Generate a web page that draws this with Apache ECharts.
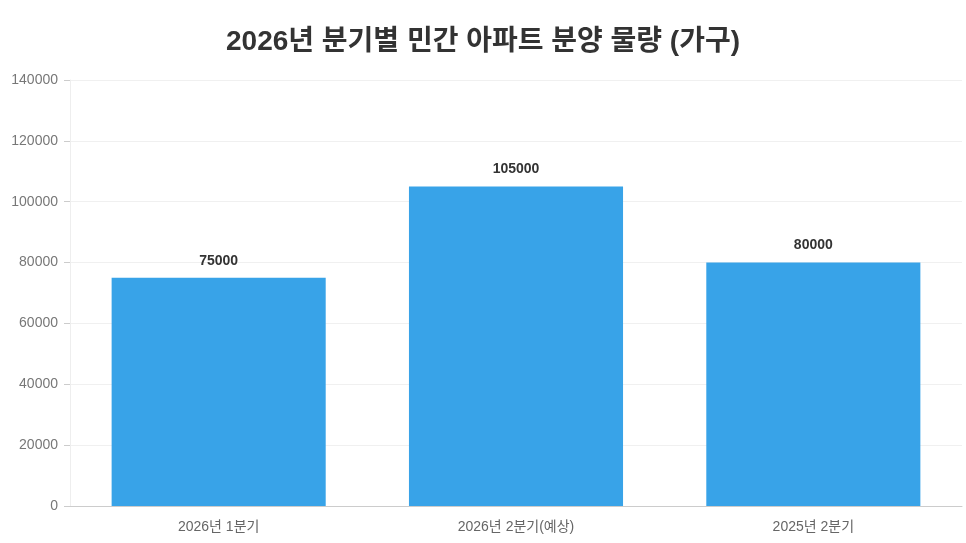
<!DOCTYPE html>
<html>
<head>
<meta charset="utf-8">
<script src="https://cdn.jsdelivr.net/npm/echarts@6/dist/echarts.min.js"></script>
<style>
	html, body { margin: 0; padding: 0; background: #fff; }
	#chart { width: 966px; height: 543px; }
</style>
</head>
<body>
<div id="chart"></div>
<script>
var categories = ['2026년 1분기', '2026년 2분기(예상)', '2025년 2분기'];
var supplyValues = [75000, 105000, 80000];
var titleText = '2026년 분기별 민간 아파트 분양 물량 (가구)';

var fontFamily = '"Liberation Sans", Arial, "Noto Sans CJK KR", sans-serif';

var chart = echarts.init(document.getElementById('chart'));

var option = {
	backgroundColor: '#fff',
	animation: false,
	title: {
		text: titleText,
		left: 'center',
		top: 23,
		textStyle: {
			color: '#333',
			fontSize: 28,
			fontWeight: 'bold',
			fontFamily: fontFamily
		}
	},
	grid: {
		left: 70,
		right: 4,
		top: 80,
		bottom: 37
	},
	xAxis: {
		type: 'category',
		data: categories,
		axisLine: { lineStyle: { color: '#ccc' } },
		axisTick: { show: false },
		axisLabel: {
			color: '#666',
			fontSize: 14,
			margin: 14,
			fontFamily: fontFamily
		}
	},
	yAxis: {
		type: 'value',
		min: 0,
		max: 140000,
		interval: 20000,
		axisLine: { show: true, lineStyle: { color: '#eee' } },
		axisTick: { show: true, length: 6, lineStyle: { color: '#ccc' } },
		splitLine: { lineStyle: { color: '#f0f0f0' } },
		axisLabel: {
			color: '#777',
			fontSize: 14,
			margin: 12,
			fontFamily: fontFamily,
			formatter: function (v) { return String(v); }
		}
	},
	series: [
		{
			type: 'bar',
			data: supplyValues,
			barWidth: '72%',
			itemStyle: { color: '#38a3e8' },
			label: {
				show: true,
				position: 'top',
				distance: 10,
				color: '#333',
				fontSize: 14,
				fontWeight: 'bold',
				fontFamily: fontFamily
			}
		}
	]
};

chart.setOption(option);
</script>
</body>
</html>
